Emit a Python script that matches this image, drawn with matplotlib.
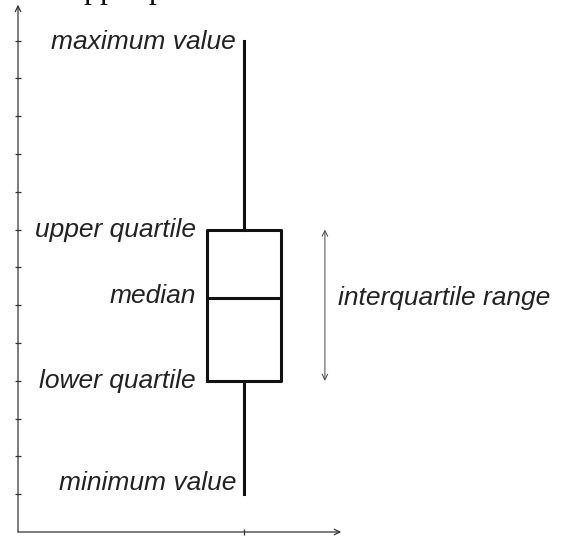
import matplotlib
matplotlib.use("Agg")
import matplotlib.pyplot as plt

# five-number summary
stat_names = ["whislo", "q1", "med", "q3", "whishi"]
stat_values = [1.0, 4.0, 6.2, 8.0, 13.0]
labels = ["minimum value", "lower quartile", "median", "upper quartile", "maximum value"]
yticks = list(range(1, 14))
xticks = [1]
iqr_label = "interquartile range"

W, H = 562, 536
fig = plt.figure(figsize=(W / 100, H / 100), dpi=100)
# axes origin sits at pixel (18, 532)
ax = fig.add_axes([18 / W, 4 / H, (W - 18) / W, 532 / H])

stats = dict(zip(stat_names, stat_values))
line = dict(color="#111111", linewidth=2.2)
ax.bxp([stats], positions=[1], widths=0.33, showfliers=False, showcaps=False,
       boxprops=line, whiskerprops=line, medianprops=line)

ax.set_xlim(0, (W - 18) / 226)
ax.set_ylim(0, 532 / 37.8)
ax.set_xticks(xticks)
ax.set_yticks(yticks)
ax.set_xticklabels([])
ax.set_yticklabels([])

axis_col = "#333333"
for side in ax.spines:
    ax.spines[side].set_visible(False)
ax.tick_params(direction="inout", length=5, width=0.9, color=axis_col)

# axis lines with open arrowheads
arrow = dict(arrowstyle="->", lw=0.9, color=axis_col, shrinkA=0, shrinkB=0)
ax.annotate("", xy=(0, 13.95), xytext=(0, 0), arrowprops=arrow, annotation_clip=False)
ax.annotate("", xy=(1.43, 0), xytext=(0, 0), arrowprops=arrow, annotation_clip=False)

font = dict(family="Liberation Sans", style="italic", fontsize=19, color="#222222")
offsets = {"whislo": 0.3, "q1": 0.0, "med": 0.05, "q3": 0.0, "whishi": -0.05}
for name, value, text in zip(stat_names, stat_values, labels):
    if name in ("whislo", "whishi"):
        x = 1 - 0.035
    else:
        x = 1 - 0.165 - 0.048
    ax.text(x, value + offsets[name], text, ha="right", va="center", **font)

ax.annotate("", xy=(1.358, stats["q3"]), xytext=(1.358, stats["q1"]),
            arrowprops=dict(arrowstyle="<->", lw=0.7, color="#444444", shrinkA=0, shrinkB=0))
ax.text(1.416, stats["med"], iqr_label, ha="left", va="center", **font)

# caption from the page above, only its descenders show
fig.text(68 / W, 1 + 2 / H, "upper p", family="Liberation Serif", fontsize=23,
         ha="left", va="baseline", color="#111111")

fig.savefig("out.png", dpi=100)
